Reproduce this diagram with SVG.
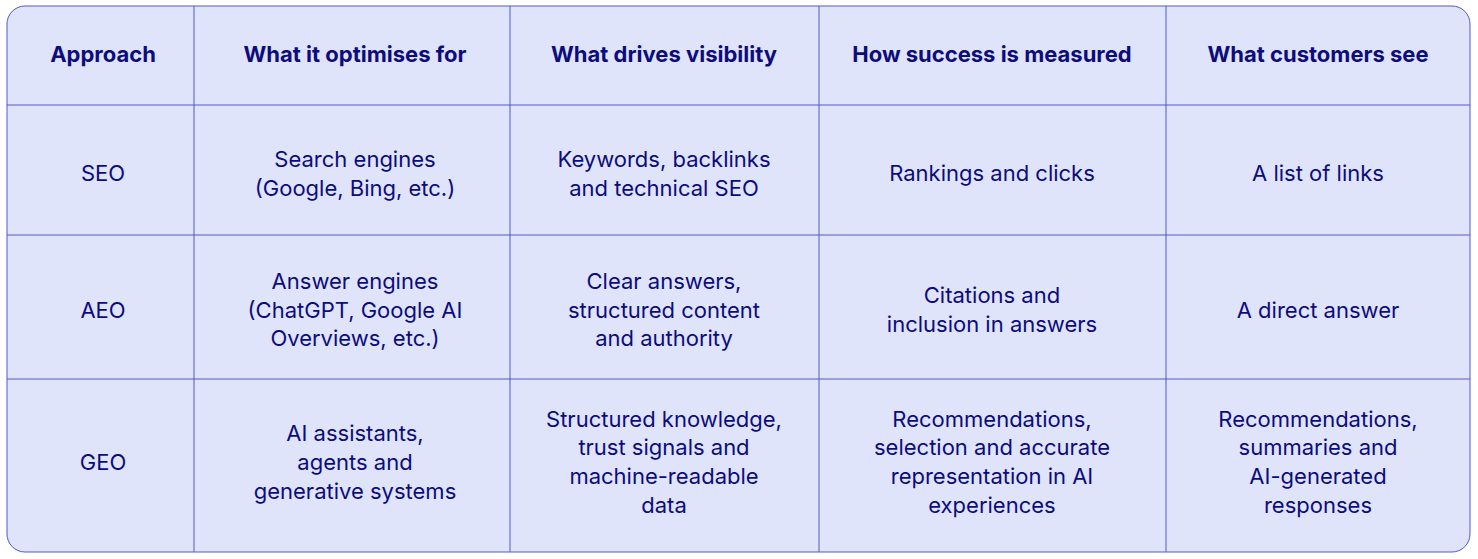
<svg xmlns="http://www.w3.org/2000/svg" width="1478" height="559" viewBox="0 0 1478 559">
<style>
.t{font-family:Inter,"Liberation Sans",sans-serif;font-size:22px;fill:#0c0c7c;text-anchor:middle}
.h{font-weight:700}
.l{stroke:#5458c8;stroke-width:1}
</style>
<rect x="7" y="6" width="1463" height="546" rx="18" fill="#dfe4fb" stroke="#5458c8" stroke-width="1"/>
<g id="grid">
<line class="l" x1="194" y1="6" x2="194" y2="552"/>
<line class="l" x1="510" y1="6" x2="510" y2="552"/>
<line class="l" x1="819" y1="6" x2="819" y2="552"/>
<line class="l" x1="1166" y1="6" x2="1166" y2="552"/>
<line class="l" x1="7" y1="105" x2="1470" y2="105"/>
<line class="l" x1="7" y1="235" x2="1470" y2="235"/>
<line class="l" x1="7" y1="379" x2="1470" y2="379"/>
</g>
<g id="header" class="t h">
<text x="103" y="62">Approach</text>
<text x="355" y="62">What it optimises for</text>
<text x="664" y="62">What drives visibility</text>
<text x="992" y="62">How success is measured</text>
<text x="1318" y="62">What customers see</text>
</g>
<g id="row-seo" class="t">
<text x="103" y="181">SEO</text>
<text x="355" y="167">Search engines</text>
<text x="355" y="196">(Google, Bing, etc.)</text>
<text x="664" y="167">Keywords, backlinks</text>
<text x="664" y="196">and technical SEO</text>
<text x="992" y="181">Rankings and clicks</text>
<text x="1318" y="181">A list of links</text>
</g>
<g id="row-aeo" class="t">
<text x="103" y="318">AEO</text>
<text x="355" y="289">Answer engines</text>
<text x="355" y="318">(ChatGPT, Google AI</text>
<text x="355" y="346">Overviews, etc.)</text>
<text x="664" y="289">Clear answers,</text>
<text x="664" y="318">structured content</text>
<text x="664" y="346">and authority</text>
<text x="992" y="303">Citations and</text>
<text x="992" y="332">inclusion in answers</text>
<text x="1318" y="318">A direct answer</text>
</g>
<g id="row-geo" class="t">
<text x="103" y="470">GEO</text>
<text x="355" y="441">AI assistants,</text>
<text x="355" y="470">agents and</text>
<text x="355" y="499">generative systems</text>
<text x="664" y="427">Structured knowledge,</text>
<text x="664" y="455">trust signals and</text>
<text x="664" y="484">machine-readable</text>
<text x="664" y="513">data</text>
<text x="992" y="427">Recommendations,</text>
<text x="992" y="455">selection and accurate</text>
<text x="992" y="484">representation in AI</text>
<text x="992" y="513">experiences</text>
<text x="1318" y="427">Recommendations,</text>
<text x="1318" y="455">summaries and</text>
<text x="1318" y="484">AI-generated</text>
<text x="1318" y="513">responses</text>
</g>
</svg>
